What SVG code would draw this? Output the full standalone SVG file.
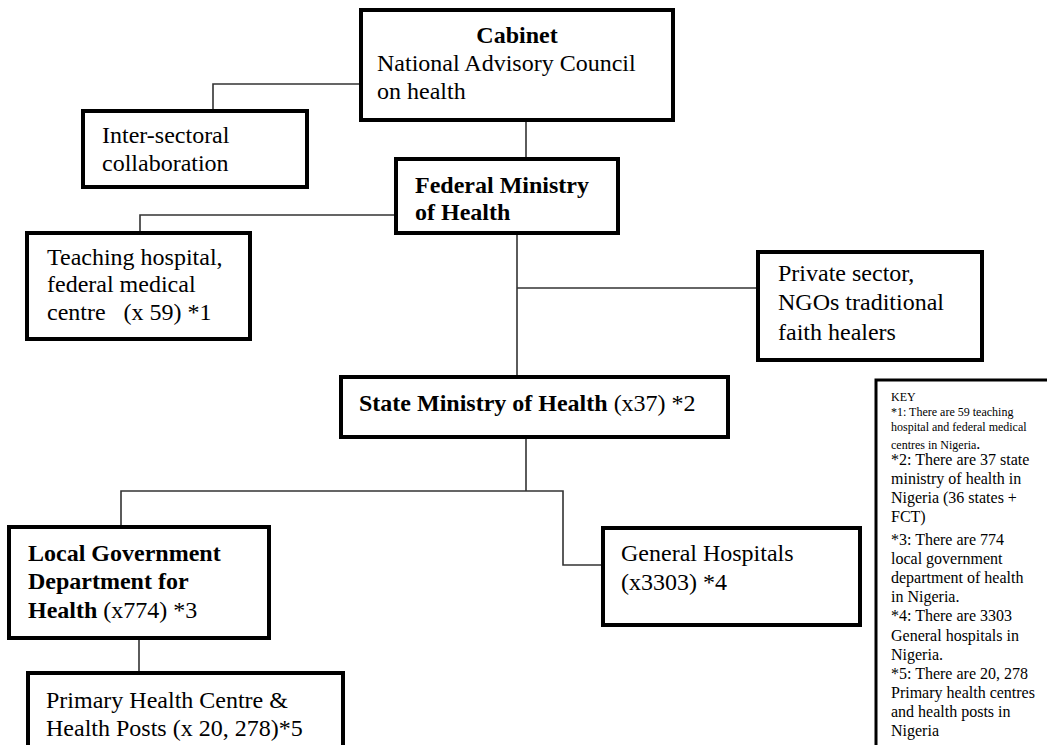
<svg xmlns="http://www.w3.org/2000/svg" width="1047" height="745" viewBox="0 0 1047 745">
<style>
.box{fill:#fff;stroke:#000;stroke-width:4}
.kbox{fill:#fff;stroke:#000;stroke-width:3}
.con{fill:none;stroke:#333;stroke-width:1.6}
text{font-family:"Liberation Serif","Times New Roman",serif;font-size:24px;fill:#000}
.b{font-weight:bold}
.s{font-size:12px}
.m{font-size:16px}
.pre{white-space:pre}
</style>
<rect width="1047" height="745" fill="#fff"/>
<g id="connectors">
<path class="con" d="M526 120V158"/>
<path class="con" d="M361 84H213V111"/>
<path class="con" d="M396 215H140V233"/>
<path class="con" d="M517 233V377"/>
<path class="con" d="M517 288H758"/>
<path class="con" d="M526 437V491"/>
<path class="con" d="M121 527V491H563V565H603"/>
<path class="con" d="M139 638V673"/>
</g>
<g id="cabinet">
<rect class="box" x="361" y="10" width="312" height="110"/>
<text class="b" x="517" y="43" text-anchor="middle">Cabinet</text>
<text x="377" y="71">National Advisory Council</text>
<text x="377" y="99">on health</text>
</g>
<g id="intersectoral">
<rect class="box" x="83" y="111" width="224" height="76"/>
<text x="102" y="143">Inter-sectoral</text>
<text x="102" y="171">collaboration</text>
</g>
<g id="federal">
<rect class="box" x="396" y="159" width="222" height="74"/>
<text class="b" x="415" y="193">Federal Ministry</text>
<text class="b" x="415" y="220">of Health</text>
</g>
<g id="teaching">
<rect class="box" x="27" y="233" width="223" height="106"/>
<text x="47" y="265">Teaching hospital,</text>
<text x="47" y="292">federal medical</text>
<text class="pre" x="47" y="320" xml:space="preserve">centre   (x 59) *1</text>
</g>
<g id="private">
<rect class="box" x="758" y="252" width="224" height="108"/>
<text x="778" y="281">Private sector,</text>
<text x="778" y="310">NGOs traditional</text>
<text x="778" y="340">faith healers</text>
</g>
<g id="state">
<rect class="box" x="341" y="377" width="387" height="60"/>
<text x="359" y="411"><tspan class="b">State Ministry of Health</tspan> (x37) *2</text>
</g>
<g id="local">
<rect class="box" x="9" y="527" width="260" height="111"/>
<text class="b" x="28" y="561">Local Government</text>
<text class="b" x="28" y="589">Department for</text>
<text x="28" y="618"><tspan class="b">Health</tspan> (x774) *3</text>
</g>
<g id="general">
<rect class="box" x="603" y="528" width="257" height="97"/>
<text x="621" y="561">General Hospitals</text>
<text x="621" y="590">(x3303) *4</text>
</g>
<g id="primary">
<rect class="box" x="28" y="673" width="315" height="90"/>
<text x="46" y="708">Primary Health Centre &amp;</text>
<text x="46" y="736">Health Posts (x 20, 278)*5</text>
</g>
<g id="key">
<rect class="kbox" x="876" y="380" width="200" height="400"/>
<text class="s" x="891" y="401">KEY</text>
<text class="s" x="891" y="416">*1: There are 59 teaching</text>
<text class="s" x="891" y="431">hospital and federal medical</text>
<text class="s" x="891" y="449">centres in Nigeria<tspan class="m">.</tspan></text>
<text class="m" x="891" y="465">*2: There are 37 state</text>
<text class="m" x="891" y="484">ministry of health in</text>
<text class="m" x="891" y="503">Nigeria (36 states +</text>
<text class="m" x="891" y="522">FCT)</text>
<text class="m" x="891" y="545">*3: There are 774</text>
<text class="m" x="891" y="564">local government</text>
<text class="m" x="891" y="583">department of health</text>
<text class="m" x="891" y="602">in Nigeria.</text>
<text class="m" x="891" y="621">*4: There are 3303</text>
<text class="m" x="891" y="641">General hospitals in</text>
<text class="m" x="891" y="660">Nigeria.</text>
<text class="m" x="891" y="679">*5: There are 20, 278</text>
<text class="m" x="891" y="698">Primary health centres</text>
<text class="m" x="891" y="717">and health posts in</text>
<text class="m" x="891" y="736">Nigeria</text>
</g>
</svg>
